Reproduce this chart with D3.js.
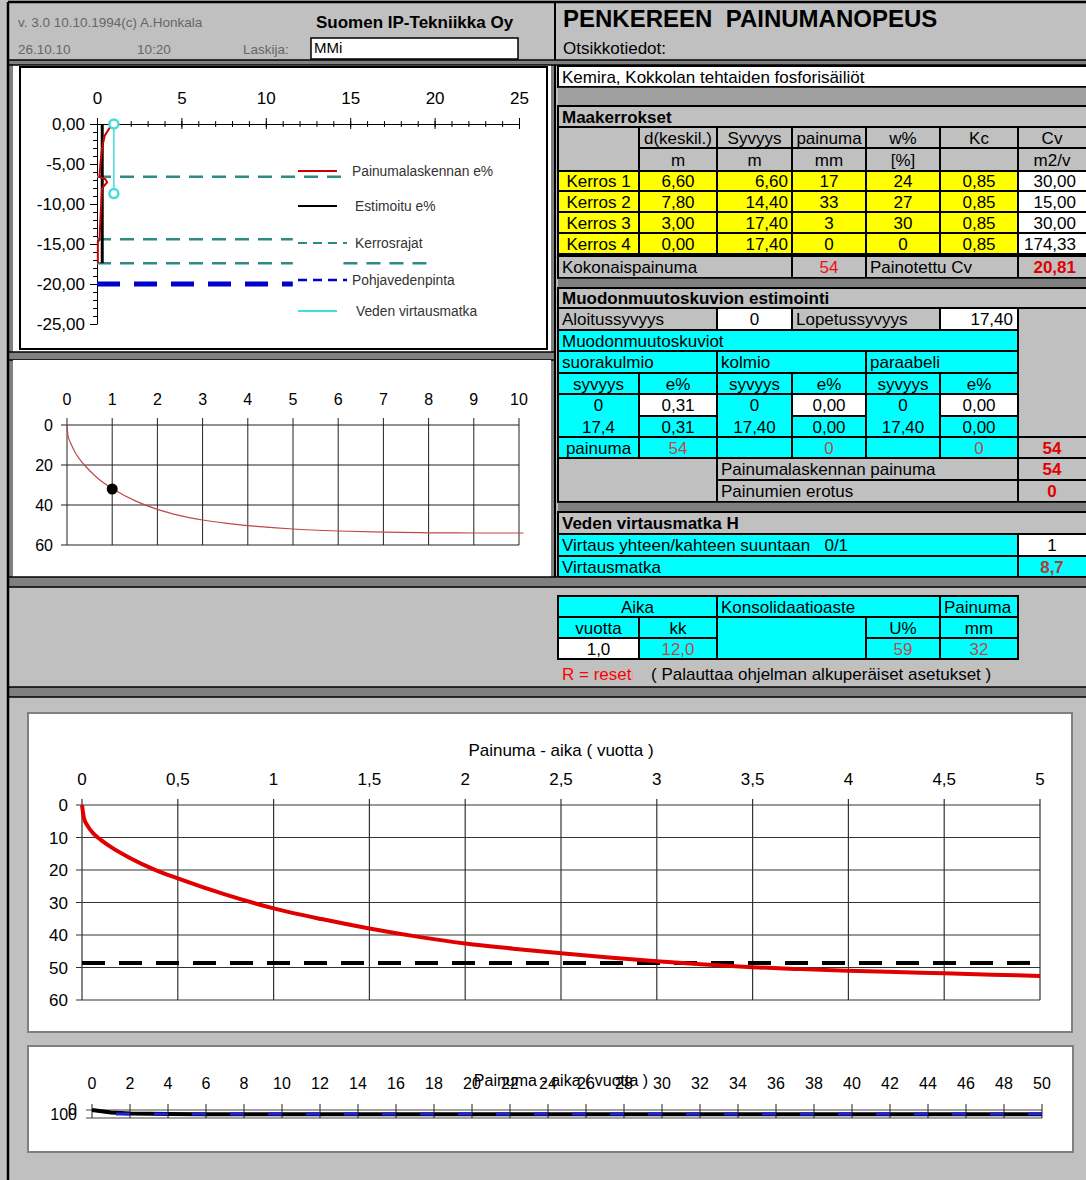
<!DOCTYPE html>
<html><head><meta charset="utf-8">
<script src="https://cdn.jsdelivr.net/npm/d3@7"></script>
<style>
body{margin:0;background:#c0c0c0;}
svg{display:block;font-family:"Liberation Sans",Arial,sans-serif;}
svg text{white-space:pre;}
</style>
</head><body>
<svg id="c" width="1086" height="1180"></svg>
<script>
// ================= DATA =================
// header texts
const headerLeft = ["v. 3.0 10.10.1994(c) A.Honkala", "Suomen IP-Tekniikka Oy", "26.10.10", "10:20", "Laskija:", "MMi"];
const headerRight = ["PENKEREEN  PAINUMANOPEUS", "Otsikkotiedot:"];
const projectName = "Kemira, Kokkolan tehtaiden fosforisäiliöt";

// soil layer table (Maakerrokset)
const layerHeaders = ["d(keskil.)", "Syvyys", "painuma", "w%", "Kc", "Cv"];
const layerUnits = ["m", "m", "mm", "[%]", "", "m2/v"];
const layerNames = ["Kerros 1", "Kerros 2", "Kerros 3", "Kerros 4"];
const layerThickness = ["6,60", "7,80", "3,00", "0,00"];
const layerDepth = ["6,60", "14,40", "17,40", "17,40"];
const layerSettlement = ["17", "33", "3", "0"];
const layerWaterPct = ["24", "27", "30", "0"];
const layerKc = ["0,85", "0,85", "0,85", "0,85"];
const layerCv = ["30,00", "15,00", "30,00", "174,33"];
const totalSettlement = "54";
const weightedCv = "20,81";

// deformation pattern estimation
const startDepth = "0", endDepth = "17,40";
const shapeNames = ["suorakulmio", "kolmio", "paraabeli"];
const shapeTopDepth = ["0", "0", "0"];
const shapeBottomDepth = ["17,4", "17,40", "17,40"];
const shapeTopE = ["0,31", "0,00", "0,00"];
const shapeBottomE = ["0,31", "0,00", "0,00"];
const shapeSettlement = ["54", "0", "0"];
const shapeSettlementSum = "54";
const calcSettlement = "54";
const settlementDiff = "0";
const flowDirections = "1";
const flowDistance = "8,7";

// time table
const timeYears = "1,0", timeMonths = "12,0", consolidationPct = "59", settlementNow = "32";

// chart 1: e% profile vs depth
const c1XTicks = [0, 5, 10, 15, 20, 25];
const c1YTicks = [0, -5, -10, -15, -20, -25];
const ePctCalc = [[0.8,-0.3],[0.45,-1.5],[0.3,-3],[0.2,-5],[0.15,-6.6],[0.5,-6.9],[0.6,-7.3],[0.3,-8],[0.25,-10],[0.2,-12],[0.15,-14.4],[0.05,-14.8],[0.05,-17.4]];
const ePctEst = [[0.31,0],[0.31,-17.4]];
const layerBoundaries = [[0,-6.6,14.8],[0,-14.4,11.6],[0,-17.4,11.6],[14.6,-17.4,19.7]]; // [x0, depth, x1]
const groundWater = [[0,-20],[11.6,-20]];
const flowPath = [[1.0,0],[1.0,-8.7]];
const legendLabels = ["Painumalaskennan e%", "Estimoitu e%", "Kerrosrajat", "Pohjavedenpinta", "Veden virtausmatka"];

// chart 2: settlement vs time, 0-10 years
const c2XTicks = [0,1,2,3,4,5,6,7,8,9,10];
const c2YTicks = [0,20,40,60];
const settle10 = [[0,0],[0.02,5],[0.1,10],[0.2,14.5],[0.385,20],[0.6,25],[0.8,28.8],[1,31.7],[1.5,37.8],[2,42.2],[2.5,45.3],[3,47.5],[3.5,49.1],[4,50.3],[4.5,51.2],[5,52],[6,53],[7,53.6],[8,53.9],[9,54],[10.1,54]];
const currentPoint = [1.0, 32];

// chart 3: settlement vs time, 0-5 years
const c3Title = "Painuma - aika ( vuotta )";
const c3XTicks = [0,0.5,1,1.5,2,2.5,3,3.5,4,4.5,5];
const c3YTicks = [0,10,20,30,40,50,60];
const settle5 = [[0,0],[0.01,4],[0.03,6.5],[0.06,8.8],[0.1,10.8],[0.15,12.9],[0.25,16.3],[0.375,19.8],[0.5,22.6],[0.75,27.6],[1,31.8],[1.25,35.1],[1.5,38],[1.75,40.5],[2,42.6],[2.25,44.2],[2.5,45.6],[2.75,46.9],[3,48.1],[3.25,49.1],[3.5,49.9],[3.75,50.5],[4,51],[4.25,51.4],[4.5,51.8],[4.75,52.2],[5,52.6]];
const target90 = 48.6;

// chart 4: settlement vs time, 0-50 years
const c4XTicks = [0,2,4,6,8,10,12,14,16,18,20,22,24,26,28,30,32,34,36,38,40,42,44,46,48,50];
const c4YTicks = [0,100];
const settle50 = [[0,0],[1,32],[2,42.5],[3,47.5],[4,50.3],[6,53],[8,53.9],[10,54],[50,54]];

// ================= DRAW =================
const svg = d3.select("#c");
const loc = d3.formatLocale({decimal:",", thousands:" ", grouping:[3], currency:["","€"], minus:"-"});
const fmt2 = loc.format(".2f"), fmtG = loc.format(".1~f"), fmtD = loc.format("d");
const YEL = "#ffff00", CY = "#00ffff", GR = "#c0c0c0", DG = "#808080", WH = "#ffffff";
const RED = "#ee1111", BRED = "#e00000", DRED = "#c04848";

function R(x0,y0,x1,y1,fill,stroke,sw){ return svg.append("rect").attr("x",x0).attr("y",y0).attr("width",x1-x0).attr("height",y1-y0).attr("fill",fill).attr("stroke",stroke||"none").attr("stroke-width",sw||0); }
function L(x0,y0,x1,y1,stroke,sw){ return svg.append("line").attr("x1",x0).attr("y1",y0).attr("x2",x1).attr("y2",y1).attr("stroke",stroke).attr("stroke-width",sw); }
function T(x,y,t,o={}){ return svg.append("text").attr("x",x).attr("y",y).attr("dy","0.36em").attr("font-size",o.size||17).attr("font-weight",o.bold?"bold":"normal").attr("fill",o.color||"#000").attr("text-anchor",o.anchor||"start").text(t); }
function cell(x0,x1,y0,y1,fill,t,o={}){
  R(x0,y0,x1,y1,fill,"#000",2);
  if(t!==undefined && t!==""){
    const yc=(y0+y1)/2;
    if(o.align==="left") T(x0+4,yc,t,o);
    else if(o.align==="right") T(x1-(o.pad||4),yc,t,{...o,anchor:"end"});
    else T((x0+(o.cx||x1))/2,yc,t,{...o,anchor:"middle"});
  }
}
function band(x0,x1,y0,y1,fill){ R(x0,y0,x1,y1,fill||DG); L(x0,y0,x1,y0,"#000",1.6); L(x0,y1,x1,y1,"#000",1.6); }

// background
R(0,0,1086,1180,GR);

// ---------- header ----------
T(18,22,headerLeft[0],{size:13.5,color:"#666"});
T(316,22,headerLeft[1],{size:17,bold:true});
T(18,49,headerLeft[2],{size:13.5,color:"#666"});
T(137,49,headerLeft[3],{size:13.5,color:"#666"});
T(243,49,headerLeft[4],{size:13.5,color:"#666"});
R(311,38,518,59,WH,"#000",1.5);
T(314,48,headerLeft[5],{size:15});
T(563,18,headerRight[0],{size:24,bold:true});
T(563,48,headerRight[1],{size:17});

// ---------- left panel frame ----------
R(9,63,555,587,DG);
R(13,65,551,352,WH);
R(20,67,547,349,"none","#000",2);
band(9,555,352,360);
R(13,360,551,577,WH);

// ---------- chart 1 ----------
const x1 = d3.scaleLinear().domain([0,25]).range([97,519]);
const y1 = d3.scaleLinear().domain([0,-25]).range([124,324]);
const g1 = svg.append("g");
function styleAxis(a,size){ a.attr("font-family",null).attr("font-size",size); a.selectAll("text").attr("fill","#000"); a.selectAll("line,path").attr("stroke","#000"); }
let a = g1.append("g").attr("transform",`translate(0,${y1(0)})`).call(d3.axisTop(x1).tickValues(d3.range(0,26,1)).tickSize(3).tickFormat("").tickSizeOuter(0));
styleAxis(a,17); a.selectAll(".tick line").attr("y1",3);
a = g1.append("g").attr("transform",`translate(0,${y1(0)})`).call(d3.axisTop(x1).tickValues(c1XTicks).tickSize(6).tickPadding(14).tickFormat(fmtD).tickSizeOuter(0));
styleAxis(a,17); a.selectAll(".tick line").attr("y1",5); a.select(".domain").remove();
a = g1.append("g").attr("transform",`translate(${x1(0)},0)`).call(d3.axisLeft(y1).tickValues(d3.range(0,-26,-1)).tickSize(4).tickFormat("").tickSizeOuter(0));
styleAxis(a,17);
a = g1.append("g").attr("transform",`translate(${x1(0)},0)`).call(d3.axisLeft(y1).tickValues(c1YTicks).tickSize(7).tickPadding(5).tickFormat(fmt2).tickSizeOuter(0));
styleAxis(a,17); a.select(".domain").remove();

const ln1 = d3.line().x(d=>x1(d[0])).y(d=>y1(d[1]));
const TEAL = "#2e8b84", BLUE = "#0000cc", CYN = "#44dddd";
g1.selectAll(".lb").data(layerBoundaries).join("line")
  .attr("x1",d=>x1(d[0])).attr("x2",d=>x1(d[2])).attr("y1",d=>y1(d[1])).attr("y2",d=>y1(d[1]))
  .attr("stroke",TEAL).attr("stroke-width",2.5).attr("stroke-dasharray","14,9");
g1.append("path").datum(groundWater).attr("d",ln1).attr("fill","none").attr("stroke",BLUE).attr("stroke-width",5).attr("stroke-dasharray","23,14");
g1.append("path").datum(ePctEst).attr("d",ln1).attr("fill","none").attr("stroke","#000").attr("stroke-width",3);
g1.append("path").datum(ePctCalc).attr("d",ln1).attr("fill","none").attr("stroke","#cc0000").attr("stroke-width",2);
g1.append("path").datum(flowPath).attr("d",ln1).attr("fill","none").attr("stroke",CYN).attr("stroke-width",1.5);
g1.selectAll(".fp").data(flowPath).join("circle").attr("cx",d=>x1(d[0])).attr("cy",d=>y1(d[1])).attr("r",4.5)
  .attr("fill","#fff").attr("stroke",CYN).attr("stroke-width",2.5);
// legend
const legY = [171,206,243,280,311];
const legStyle = [
  {c:"#cc0000",w:2,d:null,x2:337},
  {c:"#000",w:2,d:null,x2:337},
  {c:TEAL,w:2,d:"9,6",x2:347},
  {c:BLUE,w:2.5,d:"9,6",x2:347},
  {c:CYN,w:2,d:null,x2:337}];
const legX = [352,355,355,352,356];
legendLabels.forEach((t,i)=>{
  L(298,legY[i],legStyle[i].x2,legY[i],legStyle[i].c,legStyle[i].w).attr("stroke-dasharray",legStyle[i].d);
  T(legX[i],legY[i],t,{size:13.8,color:"#333"});
});

// ---------- chart 2 ----------
const x2 = d3.scaleLinear().domain([0,10]).range([67,519]);
const y2 = d3.scaleLinear().domain([0,60]).range([425,545]);
const g2 = svg.append("g");
g2.selectAll(".v").data(c2XTicks).join("line").attr("x1",d=>x2(d)).attr("x2",d=>x2(d)).attr("y1",y2(0)-7).attr("y2",y2(60)).attr("stroke","#222").attr("stroke-width",1);
g2.selectAll(".h").data(c2YTicks).join("line").attr("x1",x2(0)-6).attr("x2",x2(10)).attr("y1",d=>y2(d)).attr("y2",d=>y2(d)).attr("stroke","#222").attr("stroke-width",1);
g2.selectAll(".xl").data(c2XTicks).join("text").attr("x",d=>x2(d)).attr("y",399).attr("dy","0.36em").attr("text-anchor","middle").attr("font-size",16).text(fmtD);
g2.selectAll(".yl").data(c2YTicks).join("text").attr("x",53).attr("y",d=>y2(d)).attr("dy","0.36em").attr("text-anchor","end").attr("font-size",16).text(fmtD);
g2.append("path").datum(settle10).attr("d",d3.line().curve(d3.curveMonotoneX).x(d=>x2(d[0])).y(d=>y2(d[1]))).attr("fill","none").attr("stroke","#c04848").attr("stroke-width",1.2);
g2.append("circle").attr("cx",x2(currentPoint[0])).attr("cy",y2(currentPoint[1])).attr("r",5.5).attr("fill","#000");

// ---------- right panel ----------
L(555,3,555,587,"#000",2);
const C = [558,639,717,792,866,940,1018,1086];
cell(C[0],1096,66,87,WH,projectName,{align:"left"});
band(C[0],1096,87,106,"#a0a0a0");
cell(C[0],1096,106,127,GR,"Maakerrokset",{align:"left",bold:true});
cell(C[0],C[1],127,171,GR);
layerHeaders.forEach((h,i)=>{ cell(C[i+1],i===5?1096:C[i+2],127,148,GR,h,{cx:i===5?1086:null}); });
layerUnits.forEach((h,i)=>{ cell(C[i+1],i===5?1096:C[i+2],148,171,GR,h,{cx:i===5?1086:null}); });
const rowK = [171,191,212,233,254];
layerNames.forEach((n,i)=>{
  const a0=rowK[i], a1=rowK[i+1];
  cell(C[0],C[1],a0,a1,YEL,n);
  cell(C[1],C[2],a0,a1,YEL,layerThickness[i]);
  cell(C[2],C[3],a0,a1,YEL,layerDepth[i],{align:"right"});
  cell(C[3],C[4],a0,a1,YEL,layerSettlement[i]);
  cell(C[4],C[5],a0,a1,YEL,layerWaterPct[i]);
  cell(C[5],C[6],a0,a1,YEL,layerKc[i]);
  cell(C[6],1096,a0,a1,WH,layerCv[i],{align:"right",pad:20});
});
cell(C[0],C[3],256,278,GR,"Kokonaispainuma",{align:"left"});
cell(C[3],C[4],256,278,GR,totalSettlement,{color:RED});
cell(C[4],C[6],256,278,GR,"Painotettu Cv",{align:"left"});
cell(C[6],1096,256,278,GR,weightedCv,{align:"right",pad:20,bold:true,color:BRED});
band(C[0],1096,278,288);
cell(C[0],1096,288,308,GR,"Muodonmuutoskuvion estimointi",{align:"left",bold:true});
cell(C[0],C[2],308,330,GR,"Aloitussyvyys",{align:"left"});
cell(C[2],C[3],308,330,WH,startDepth);
cell(C[3],C[5],308,330,GR,"Lopetussyvyys",{align:"left"});
cell(C[5],C[6],308,330,WH,endDepth,{align:"right",pad:5});
cell(C[6],1096,308,437,GR);
cell(C[0],C[6],330,351,CY,"Muodonmuutoskuviot",{align:"left"});
const shapeCols = [[C[0],C[1],C[2]],[C[2],C[3],C[4]],[C[4],C[5],C[6]]];
shapeNames.forEach((s,i)=>{
  const [s0,s1,s2] = shapeCols[i];
  cell(s0,s2,351,373,CY,s,{align:"left"});
  cell(s0,s1,373,394,CY,"syvyys");
  cell(s1,s2,373,394,CY,"e%");
  cell(s0,s1,394,437,CY);
  T((s0+s1)/2,405,shapeTopDepth[i],{anchor:"middle"});
  T((s0+s1)/2,426.5,shapeBottomDepth[i],{anchor:"middle"});
  cell(s1,s2,394,416,WH,shapeTopE[i]);
  cell(s1,s2,416,437,CY,shapeBottomE[i]);
});
cell(C[0],C[1],437,458,CY,"painuma");
cell(C[1],C[2],437,458,CY,shapeSettlement[0],{color:DRED});
cell(C[2],C[3],437,458,CY);
cell(C[3],C[4],437,458,CY,shapeSettlement[1],{color:DRED});
cell(C[4],C[5],437,458,CY);
cell(C[5],C[6],437,458,CY,shapeSettlement[2],{color:DRED});
cell(C[6],1096,437,458,GR,shapeSettlementSum,{bold:true,color:BRED,cx:1086});
cell(C[0],C[2],458,502,GR);
cell(C[2],C[6],458,480,GR,"Painumalaskennan painuma",{align:"left"});
cell(C[6],1096,458,480,GR,calcSettlement,{bold:true,color:BRED,cx:1086});
cell(C[2],C[6],480,502,GR,"Painumien erotus",{align:"left"});
cell(C[6],1096,480,502,GR,settlementDiff,{bold:true,color:BRED,cx:1086});
band(C[0],1096,502,512);
cell(C[0],1096,512,534,GR,"Veden virtausmatka H",{align:"left",bold:true});
cell(C[0],C[6],534,556,CY,"Virtaus yhteen/kahteen suuntaan   0/1",{align:"left"});
cell(C[6],1096,534,556,WH,flowDirections,{cx:1086});
cell(C[0],C[6],556,577,CY,"Virtausmatka",{align:"left"});
cell(C[6],1096,556,577,CY,flowDistance,{bold:true,color:"#b83838",cx:1086});

// bands across
band(9,1086,577,587);
band(9,1086,60,65);

// ---------- time table ----------
cell(C[0],C[2],596,617,CY,"Aika");
cell(C[2],C[5],596,617,CY,"Konsolidaatioaste",{align:"left"});
cell(C[5],C[6],596,617,CY,"Painuma",{align:"left"});
cell(C[0],C[1],617,638,CY,"vuotta");
cell(C[1],C[2],617,638,CY,"kk");
cell(C[2],C[4],617,659,CY);
cell(C[4],C[5],617,638,CY,"U%");
cell(C[5],C[6],617,638,CY,"mm");
cell(C[0],C[1],638,659,WH,timeYears);
cell(C[1],C[2],638,659,CY,timeMonths,{color:DRED});
cell(C[4],C[5],638,659,CY,consolidationPct,{color:DRED});
cell(C[5],C[6],638,659,CY,settlementNow,{color:DRED});
T(562,674,"R = reset",{color:"#ff0000"});
T(631,675,"ı",{color:"#f0a0a0",size:14});
T(651,674,"( Palauttaa ohjelman alkuperäiset asetukset )");

band(9,1086,687,697);

// outer borders
L(8,2,1086,2,"#000",2.5);
L(8,2,8,1180,"#000",2.5);

// ---------- chart 3 ----------
R(28,713,1072,1032,WH,"#808080",2);
const x3 = d3.scaleLinear().domain([0,5]).range([82,1040]);
const y3 = d3.scaleLinear().domain([0,60]).range([805,1000]);
const g3 = svg.append("g");
g3.append("text").attr("x",561).attr("y",750).attr("dy","0.36em").attr("text-anchor","middle").attr("font-size",17).text(c3Title);
g3.selectAll(".v").data(c3XTicks).join("line").attr("x1",d=>x3(d)).attr("x2",d=>x3(d)).attr("y1",y3(0)-6).attr("y2",y3(60)).attr("stroke","#333").attr("stroke-width",1.2);
g3.selectAll(".h").data(c3YTicks).join("line").attr("x1",x3(0)-6).attr("x2",x3(5)).attr("y1",d=>y3(d)).attr("y2",d=>y3(d)).attr("stroke","#333").attr("stroke-width",1.2);
g3.selectAll(".xl").data(c3XTicks).join("text").attr("x",d=>x3(d)).attr("y",779).attr("dy","0.36em").attr("text-anchor","middle").attr("font-size",17).text(fmtG);
g3.selectAll(".yl").data(c3YTicks).join("text").attr("x",68).attr("y",d=>y3(d)).attr("dy","0.36em").attr("text-anchor","end").attr("font-size",17).text(fmtD);
g3.append("line").attr("x1",x3(0)).attr("x2",x3(5)).attr("y1",y3(target90)).attr("y2",y3(target90)).attr("stroke","#000").attr("stroke-width",4).attr("stroke-dasharray","23,14");
g3.append("path").datum(settle5).attr("d",d3.line().curve(d3.curveMonotoneX).x(d=>x3(d[0])).y(d=>y3(d[1]))).attr("fill","none").attr("stroke","#e00000").attr("stroke-width",4);

// ---------- chart 4 ----------
R(28,1046,1073,1152,WH,"#808080",2);
const x4 = d3.scaleLinear().domain([0,50]).range([92,1042]);
const y4 = d3.scaleLinear().domain([0,100]).range([1110,1118]);
const g4 = svg.append("g");
g4.selectAll(".h").data(c4YTicks).join("line").attr("x1",x4(0)-6).attr("x2",x4(50)).attr("y1",d=>y4(d)).attr("y2",d=>y4(d)).attr("stroke","#444").attr("stroke-width",1);
g4.selectAll(".v").data(c4XTicks).join("line").attr("x1",d=>x4(d)).attr("x2",d=>x4(d)).attr("y1",y4(0)-6).attr("y2",y4(100)).attr("stroke","#222").attr("stroke-width",1);
g4.append("path").datum(settle50).attr("d",d3.line().x(d=>x4(d[0])).y(d=>y4(d[1]))).attr("fill","none").attr("stroke","#000").attr("stroke-width",4);
g4.append("line").attr("x1",x4(0)).attr("x2",x4(50)).attr("y1",y4(target90)).attr("y2",y4(target90)).attr("stroke","#2020dd").attr("stroke-width",3).attr("stroke-dasharray","14,24").attr("stroke-dashoffset",-24);
g4.selectAll(".xl").data(c4XTicks).join("text").attr("x",d=>x4(d)).attr("y",1083).attr("dy","0.36em").attr("text-anchor","middle").attr("font-size",16).text(fmtD);
g4.selectAll(".yl").data(c4YTicks).join("text").attr("x",77).attr("y",(d,i)=>i?1114:1109).attr("dy","0.36em").attr("text-anchor","end").attr("font-size",16).text(fmtD);
g4.append("text").attr("x",561).attr("y",1080).attr("dy","0.36em").attr("text-anchor","middle").attr("font-size",16).text(c3Title);
</script>
</body></html>
